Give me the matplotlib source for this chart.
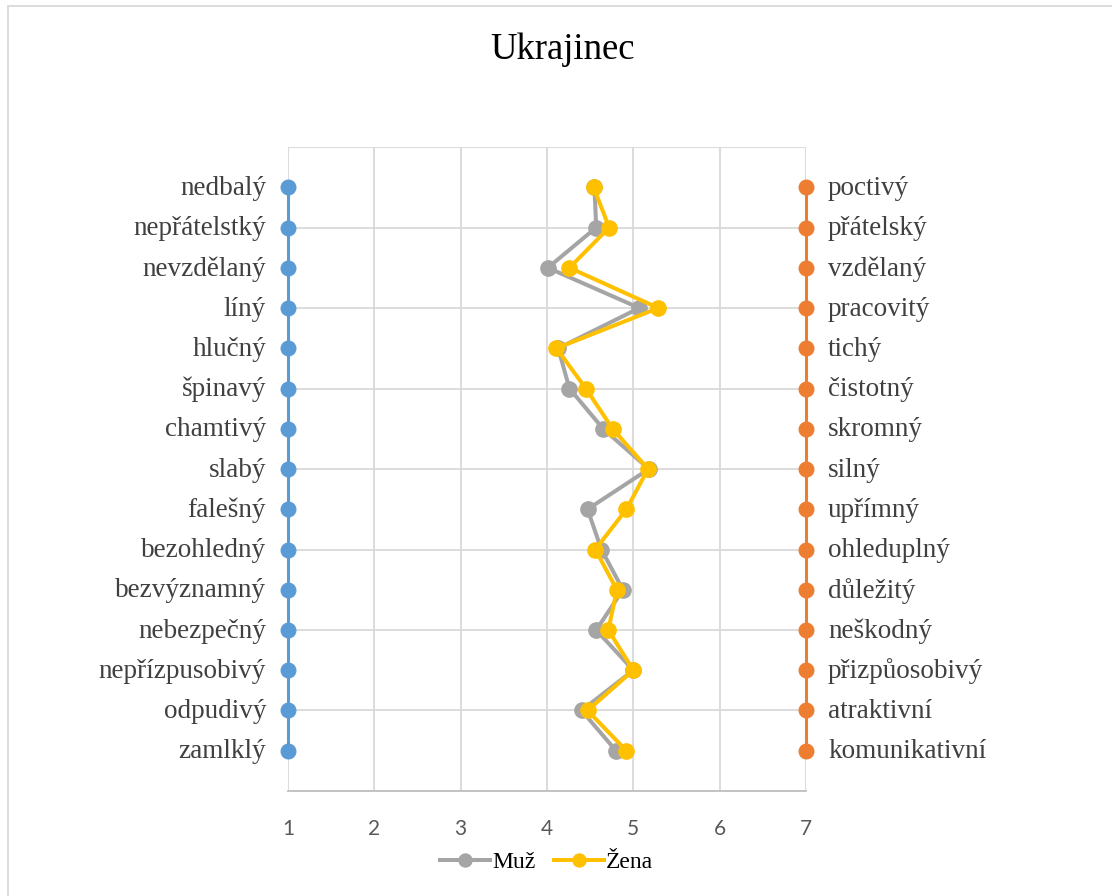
import matplotlib.pyplot as plt
from matplotlib.patches import Rectangle

# dvojice protikladnych vlastnosti (hodnota 1 vlevo, 7 vpravo)
left_labels = ['nedbalý', 'nepřátelstký', 'nevzdělaný', 'líný', 'hlučný', 'špinavý',
               'chamtivý', 'slabý', 'falešný', 'bezohledný', 'bezvýznamný',
               'nebezpečný', 'nepřízpusobivý', 'odpudivý', 'zamlklý']
right_labels = ['poctivý', 'přátelský', 'vzdělaný', 'pracovitý', 'tichý', 'čistotný',
                'skromný', 'silný', 'upřímný', 'ohleduplný', 'důležitý',
                'neškodný', 'přizpůosobivý', 'atraktivní', 'komunikativní']

muz = [4.55, 4.57, 4.01, 5.07, 4.13, 4.26, 4.65, 5.18, 4.47, 4.63, 4.88, 4.57, 5.00, 4.40, 4.80]
zena = [4.54, 4.72, 4.26, 5.29, 4.11, 4.45, 4.76, 5.17, 4.92, 4.56, 4.81, 4.71, 5.00, 4.47, 4.92]

scale_min = 1
scale_max = 7

n = len(left_labels)
rows = list(range(n, 0, -1))

serif = 'Liberation Serif'

fig = plt.figure(figsize=(11.12, 8.96), dpi=100)
ax = fig.add_axes([0.259, 0.1172, 0.4658, 0.7187])

ax.plot([scale_min] * n, rows, color='#5B9BD5', lw=2.2, marker='o', ms=10.5, zorder=3, clip_on=False)
ax.plot([scale_max] * n, rows, color='#ED7D31', lw=2.2, marker='o', ms=10.5, zorder=3, clip_on=False)
ax.plot(muz, rows, color='#A5A5A5', lw=2.9, marker='o', ms=11, zorder=4, label='Muž')
ax.plot(zena, rows, color='#FFC000', lw=2.9, marker='o', ms=11, zorder=5, label='Žena')

for r, lt, rt in zip(rows, left_labels, right_labels):
    ax.annotate(lt, (scale_min, r), xytext=(-22, -1), textcoords='offset pixels',
                ha='right', va='center', fontsize=19.5, family=serif, color='#404040')
    ax.annotate(rt, (scale_max, r), xytext=(22, -1), textcoords='offset pixels',
                ha='left', va='center', fontsize=19.5, family=serif, color='#404040')

ax.set_xlim(scale_min, scale_max)
ax.set_ylim(0, n + 1)
ax.set_xticks(range(scale_min, scale_max + 1))
ax.set_yticks(range(0, n + 2, 2))
ax.grid(True, color='#D9D9D9', lw=1.3, zorder=0)
ax.set_axisbelow(True)
ax.tick_params(axis='x', length=0, pad=20, labelsize=15, labelcolor='#595959')
ax.tick_params(axis='y', length=0, labelleft=False)
for lab in ax.get_xticklabels():
    lab.set_family('Lato')
for s in ['top', 'right', 'left']:
    ax.spines[s].set_visible(False)
ax.spines['bottom'].set_color('#BFBFBF')
ax.spines['bottom'].set_linewidth(1.3)

fig.text(0.506, 0.944, 'Ukrajinec', ha='center', va='center', fontsize=26.5, family=serif, color='black')

leg = fig.legend(loc='center', bbox_to_anchor=(0.4915, 0.0372), ncol=2, frameon=False,
                 prop={'family': serif, 'size': 17}, handlelength=2.1, handletextpad=0.1,
                 columnspacing=0.8, markerscale=0.85)

fig.add_artist(Rectangle((8 / 1112, -0.1), 1.2, 0.9933 + 0.1, transform=fig.transFigure,
                         fill=False, edgecolor='#D9D9D9', lw=1.3))

fig.savefig('out.png', dpi=100)
